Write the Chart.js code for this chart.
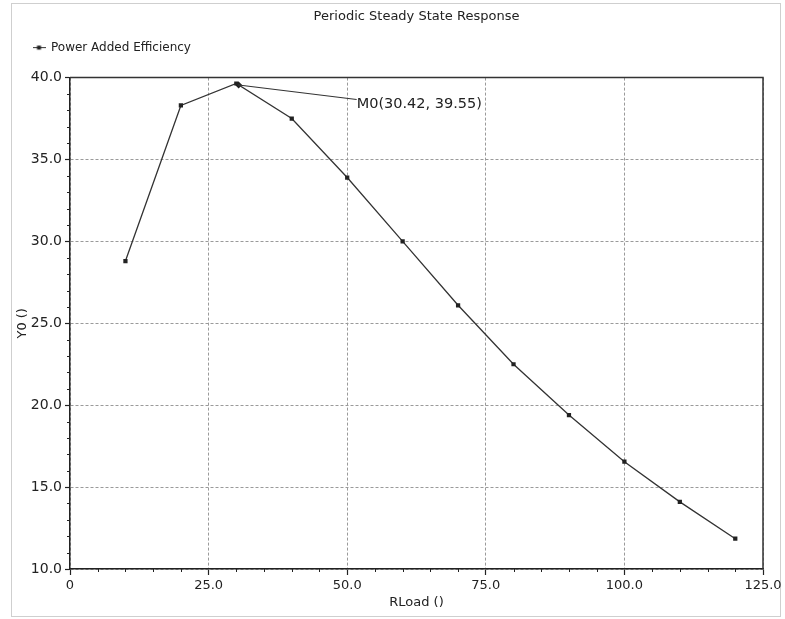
<!DOCTYPE html>
<html><head><meta charset="utf-8">
<script src="https://cdn.jsdelivr.net/npm/chart.js@4.4.0/dist/chart.umd.min.js"></script>
<style>
html,body{margin:0;padding:0;background:#fff;}
#wrap{position:relative;width:785px;height:619px;}
#panel{position:absolute;left:11px;top:3px;width:770px;height:614px;border:1px solid #cfcfcf;box-sizing:border-box;}
canvas{position:absolute;left:0;top:0;}
</style></head><body>
<div id="wrap"><div id="panel"></div><canvas id="c" width="785" height="619"></canvas></div>
<script>
// Periodic steady state sweep: power added efficiency versus load resistance
const chartTitle = 'Periodic Steady State Response';
const seriesName = 'Power Added Efficiency';
const xAxisTitle = 'RLoad ()';
const yAxisTitle = 'Y0 ()';

const rLoad = [10, 20, 30, 40, 50, 60, 70, 80, 90, 100, 110, 120];
const pae   = [28.8, 38.3, 39.64, 37.5, 33.9, 30.0, 26.1, 22.5, 19.4, 16.55, 14.1, 11.85];

// marker placed on the curve
const markerName = 'M0';
const markerX = 30.42;
const markerY = 39.55;

const xTicks = [0, 25, 50, 75, 100, 125];
const xTickLabels = ['0', '25.0', '50.0', '75.0', '100.0', '125.0'];
const yTicks = [10, 15, 20, 25, 30, 35, 40];
const yTickLabels = ['10.0', '15.0', '20.0', '25.0', '30.0', '35.0', '40.0'];

const FONT = 'DejaVu Sans';
const INK = '#222';

// legend symbol: short line with a small square in the middle
function legendSymbol() {
  const c = document.createElement('canvas');
  c.width = 13; c.height = 7;
  const g = c.getContext('2d');
  g.strokeStyle = '#333'; g.lineWidth = 1;
  g.beginPath(); g.moveTo(0, 3.5); g.lineTo(13, 3.5); g.stroke();
  g.fillStyle = '#222';
  g.fillRect(4.5, 1.5, 4, 4);
  return c;
}

const frameAndMinorTicks = {
  id: 'frameAndMinorTicks',
  afterDraw(chart) {
    const {ctx, chartArea: a, scales: {x, y}} = chart;
    ctx.save();
    ctx.strokeStyle = '#222';
    ctx.lineWidth = 1;
    ctx.beginPath();
    for (let v = 5; v < 125; v += 5) {
      if (v % 25 === 0) continue;
      const px = Math.round(x.getPixelForValue(v)) + 0.5;
      ctx.moveTo(px, a.bottom); ctx.lineTo(px, a.bottom + 3);
    }
    for (let v = 11; v < 40; v += 1) {
      if (v % 5 === 0) continue;
      const py = Math.round(y.getPixelForValue(v)) + 0.5;
      ctx.moveTo(a.left - 3, py); ctx.lineTo(a.left, py);
    }
    ctx.stroke();
    // top and right edges of the plot frame
    ctx.strokeStyle = '#333';
    ctx.lineWidth = 1.5;
    ctx.beginPath();
    ctx.moveTo(a.left, a.top); ctx.lineTo(a.right, a.top); ctx.lineTo(a.right, a.bottom);
    ctx.stroke();
    ctx.restore();
  }
};

const markerLabel = {
  id: 'markerLabel',
  afterDatasetsDraw(chart) {
    const {ctx, scales: {x, y}} = chart;
    const px = x.getPixelForValue(markerX);
    const py = y.getPixelForValue(markerY);
    const lx = px + 118, ly = py + 14.5;
    ctx.save();
    ctx.strokeStyle = '#333';
    ctx.lineWidth = 1.2;
    ctx.beginPath(); ctx.moveTo(px, py); ctx.lineTo(lx, ly); ctx.stroke();
    ctx.fillStyle = INK;
    ctx.font = '14.5px "' + FONT + '"';
    ctx.textAlign = 'left';
    ctx.textBaseline = 'middle';
    ctx.fillText(markerName + '(' + markerX.toFixed(2) + ', ' + markerY.toFixed(2) + ')', lx, ly + 4.5);
    ctx.restore();
  }
};

new Chart(document.getElementById('c'), {
  type: 'line',
  data: {
    datasets: [{
      label: seriesName,
      data: rLoad.map((v, i) => ({x: v, y: pae[i]})),
      borderColor: '#333',
      borderWidth: 1.3,
      backgroundColor: '#222',
      pointStyle: 'rect',
      pointRadius: 3,
      pointBorderWidth: 0,
      tension: 0,
      fill: false
    }, {
      label: markerName,
      data: [{x: markerX, y: markerY}],
      showLine: false,
      pointStyle: 'rectRot',
      pointRadius: 3.5,
      backgroundColor: '#222',
      borderColor: '#222',
      pointBorderWidth: 0
    }]
  },
  options: {
    responsive: false,
    devicePixelRatio: 1,
    animation: false,
    layout: {padding: {left: 17, right: 22, top: 0, bottom: 0}},
    plugins: {
      title: {
        display: true, text: chartTitle, color: INK, fullSize: false,
        font: {family: FONT, size: 13, weight: 'normal'},
        padding: {top: 9, bottom: 1}
      },
      subtitle: {
        display: true, text: ' ', weight: 500,
        font: {family: FONT, size: 14, lineHeight: 1},
        padding: 0
      },
      legend: {
        display: true, position: 'top', align: 'start',
        labels: {
          font: {family: FONT, size: 12}, color: INK,
          usePointStyle: true, pointStyle: legendSymbol(), pointStyleWidth: 12,
          padding: 16,
          filter: item => item.datasetIndex === 0
        }
      },
      tooltip: {enabled: false}
    },
    scales: {
      x: {
        type: 'linear', min: 0, max: 125,
        afterBuildTicks: s => { s.ticks = xTicks.map(v => ({value: v})); },
        afterFit: s => { s.height = 50; },
        ticks: {
          color: INK, font: {family: FONT, size: 13}, padding: 3, maxRotation: 0,
          callback: (v) => xTickLabels[xTicks.indexOf(v)]
        },
        grid: {color: '#9a9a9a', lineWidth: 1, tickLength: 6, tickColor: '#222', tickWidth: 1.2},
        border: {color: '#222', width: 1.5, dash: [3, 2]},
        title: {display: true, text: xAxisTitle, color: INK, font: {family: FONT, size: 13}, padding: {top: 0, bottom: 9}}
      },
      y: {
        type: 'linear', min: 10, max: 40,
        afterBuildTicks: s => { s.ticks = yTicks.map(v => ({value: v})); },
        afterFit: s => { s.width = 53; },
        ticks: {
          color: INK, font: {family: FONT, size: 14}, padding: 3,
          callback: (v) => yTickLabels[yTicks.indexOf(v)]
        },
        grid: {color: '#9a9a9a', lineWidth: 1, tickLength: 5, tickColor: '#222', tickWidth: 1.2},
        border: {color: '#222', width: 1.5, dash: [3, 2]},
        title: {display: true, text: yAxisTitle, color: INK, font: {family: FONT, size: 13}, padding: {top: -2, bottom: 0}}
      }
    }
  },
  plugins: [frameAndMinorTicks, markerLabel]
});
</script>
</body></html>
